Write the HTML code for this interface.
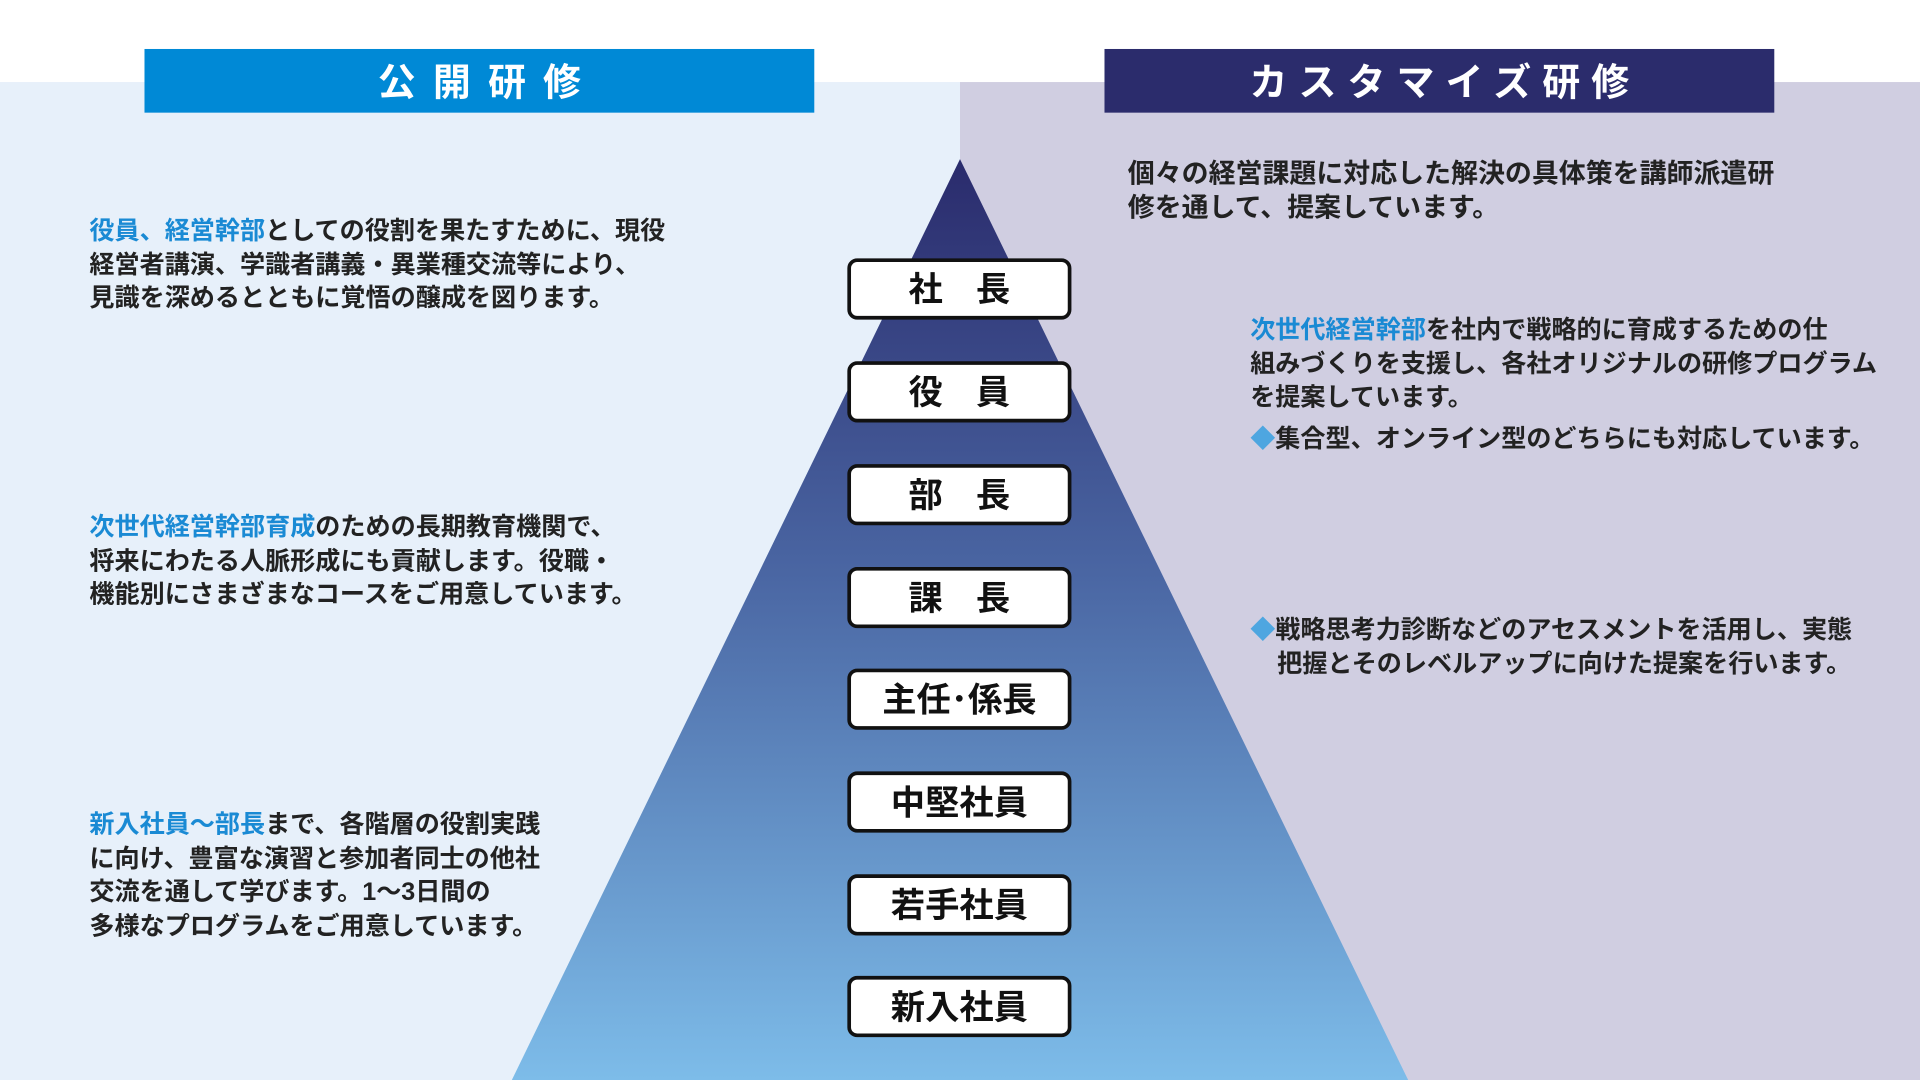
<!DOCTYPE html>
<html><head><meta charset="utf-8"><style>
html,body{margin:0;padding:0;width:1920px;height:1080px;overflow:hidden;background:#fff}
#w{position:absolute;left:0;top:0;width:1568px;height:882px;transform:scale(1.22449);transform-origin:0 0;font-family:"Liberation Sans","Noto Sans CJK JP",sans-serif;color:#222}
.a{position:absolute}
.hd{position:absolute;top:40px;height:52px;width:547px;color:#fff;font-weight:bold;font-size:31px;line-height:56px;text-align:center;letter-spacing:14px;text-indent:14px}
.box{position:absolute;left:692px;width:177px;height:44px;border:3px solid #111;border-radius:8px;background:#fff;text-align:center;font-weight:bold;font-size:28px;line-height:46px;color:#111}
.sp{letter-spacing:27px;text-indent:27px}
.t{position:absolute;white-space:nowrap;font-weight:600}
.l{font-size:20.5px;line-height:27.5px;left:73px}
.r{font-size:22px;line-height:27.5px}
.b{color:#1a8ad4}
.d{color:#4ea6e0}
</style></head><body><div id="w">
<div class="a" style="left:0;top:67px;width:784px;height:815px;background:#e7f0fa"></div>
<div class="a" style="left:784px;top:67px;width:784px;height:815px;background:#d0cee1"></div>
<svg class="a" style="left:0;top:0" width="1568" height="882"><defs><linearGradient id="g" x1="0" y1="0" x2="0" y2="1"><stop offset="0" stop-color="#2a2b6c"/><stop offset="0.45" stop-color="#4a66a3"/><stop offset="1" stop-color="#7dbce9"/></linearGradient></defs><polygon points="784,130 1150,882 418,882" fill="url(#g)"/></svg>
<div class="hd" style="left:118px;background:#0089d6">公開研修</div>
<div class="hd" style="left:902px;background:#2b2c6c;letter-spacing:9px;text-indent:9px">カスタマイズ研修</div>
<div class="box sp" style="top:211px">社長</div>
<div class="box sp" style="top:295px">役員</div>
<div class="box sp" style="top:379px">部長</div>
<div class="box sp" style="top:463px">課長</div>
<div class="box" style="top:546px">主任･係長</div>
<div class="box" style="top:630px">中堅社員</div>
<div class="box" style="top:714px">若手社員</div>
<div class="box" style="top:797px">新入社員</div>
<div class="t l" style="top:175px"><span class="b">役員、経営幹部</span>としての役割を果たすために、現役<br>経営者講演、学識者講義・異業種交流等により、<br>見識を深めるとともに覚悟の醸成を図ります。</div>
<div class="t l" style="top:417px"><span class="b">次世代経営幹部育成</span>のための長期教育機関で、<br>将来にわたる人脈形成にも貢献します。役職・<br>機能別にさまざまなコースをご用意しています。</div>
<div class="t l" style="top:660px"><span class="b">新入社員～部長</span>まで、各階層の役割実践<br>に向け、豊富な演習と参加者同士の他社<br>交流を通して学びます。1～3日間の<br>多様なプログラムをご用意しています。</div>
<div class="t r" style="left:921px;top:128px">個々の経営課題に対応した解決の具体策を講師派遣研<br>修を通して、提案しています。</div>
<div class="t r" style="left:1021px;top:256px;font-size:20.5px"><span class="b">次世代経営幹部</span>を社内で戦略的に育成するための仕<br>組みづくりを支援し、各社オリジナルの研修プログラム<br>を提案しています。</div>
<div class="t r" style="left:1021px;top:345px;font-size:20.5px"><span class="d">◆</span>集合型、オンライン型のどちらにも対応しています。</div>
<div class="t r" style="left:1021px;top:501px;font-size:20.5px"><span class="d">◆</span>戦略思考力診断などのアセスメントを活用し、実態<br><span style="padding-left:22px">把握とそのレベルアップに向けた提案を行います。</span></div>
</div></body></html>
